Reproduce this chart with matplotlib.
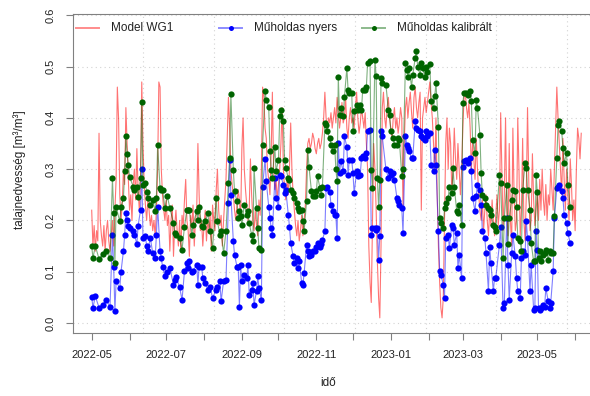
import numpy as np
import pandas as pd
import matplotlib
matplotlib.use("Agg")
import matplotlib.pyplot as plt
import matplotlib.dates as mdates
from matplotlib.lines import Line2D

plt.rcParams['font.family'] = ['Liberation Sans', 'DejaVu Sans']

start = pd.Timestamp("2022-05-01")

# Model WG1, daily values from 2022-05-01
model_wg1 = [
    # 2022-05
    0.22, 0.15, 0.19, 0.14, 0.18, 0.16, 0.37, 0.20, 0.17, 0.15, 0.19, 0.14, 0.18, 0.20, 0.16, 0.14,
    0.17, 0.20, 0.15, 0.22, 0.28, 0.46, 0.40, 0.25, 0.20, 0.23, 0.30, 0.27, 0.42, 0.35, 0.28,
    # 2022-06
    0.22, 0.25, 0.20, 0.27, 0.30, 0.24, 0.34, 0.26, 0.22, 0.28, 0.47, 0.35, 0.27, 0.23, 0.20,
    0.24, 0.22, 0.19, 0.21, 0.18, 0.20, 0.17, 0.22, 0.30, 0.47, 0.46, 0.30, 0.25, 0.22, 0.20,
    # 2022-07
    0.24, 0.19, 0.21, 0.14, 0.20, 0.23, 0.13, 0.19, 0.22, 0.18, 0.15, 0.20, 0.14, 0.21, 0.19, 0.24,
    0.28, 0.20, 0.18, 0.13, 0.21, 0.19, 0.23, 0.15, 0.20, 0.22, 0.35, 0.25, 0.18, 0.20, 0.15,
    # 2022-08
    0.19, 0.22, 0.16, 0.20, 0.18, 0.21, 0.14, 0.23, 0.20, 0.18, 0.26, 0.30, 0.22, 0.19, 0.21, 0.15,
    0.20, 0.24, 0.28, 0.36, 0.44, 0.38, 0.30, 0.27, 0.25, 0.22, 0.20, 0.23, 0.26, 0.24, 0.20,
    # 2022-09
    0.34, 0.40, 0.30, 0.26, 0.23, 0.20, 0.22, 0.32, 0.25, 0.20, 0.18, 0.22, 0.19, 0.17, 0.24,
    0.21, 0.30, 0.46, 0.44, 0.38, 0.36, 0.30, 0.28, 0.25, 0.33, 0.45, 0.30, 0.26, 0.28, 0.24,
    # 2022-10
    0.27, 0.30, 0.35, 0.42, 0.30, 0.26, 0.24, 0.28, 0.25, 0.30, 0.39, 0.30, 0.25, 0.22, 0.19, 0.17,
    0.20, 0.16, 0.18, 0.21, 0.17, 0.20, 0.23, 0.30, 0.35, 0.36, 0.34, 0.35, 0.37, 0.36, 0.34,
    # 2022-11
    0.33, 0.35, 0.36, 0.34, 0.35, 0.37, 0.40, 0.45, 0.40, 0.38, 0.40, 0.39, 0.41, 0.38, 0.40,
    0.42, 0.39, 0.44, 0.41, 0.38, 0.40, 0.43, 0.39, 0.40, 0.44, 0.38, 0.36, 0.40, 0.42, 0.39,
    # 2022-12
    0.40, 0.38, 0.42, 0.45, 0.40, 0.37, 0.39, 0.42, 0.40, 0.38, 0.41, 0.35, 0.30, 0.15, 0.08, 0.04,
    0.20, 0.35, 0.30, 0.22, 0.12, 0.05, 0.01, 0.15, 0.42, 0.45, 0.40, 0.38, 0.42, 0.44, 0.40,
    # 2023-01
    0.38, 0.36, 0.40, 0.42, 0.38, 0.40, 0.37, 0.39, 0.42, 0.40, 0.22, 0.35, 0.42, 0.44, 0.40, 0.43,
    0.45, 0.41, 0.38, 0.44, 0.46, 0.42, 0.40, 0.43, 0.45, 0.22, 0.40, 0.42, 0.44, 0.41, 0.43,
    # 2023-02
    0.45, 0.47, 0.43, 0.40, 0.35, 0.30, 0.40, 0.25, 0.15, 0.08, 0.03, 0.01, 0.05, 0.20,
    0.35, 0.40, 0.30, 0.38, 0.35, 0.25, 0.30, 0.38, 0.32, 0.28, 0.35, 0.30, 0.25, 0.30,
    # 2023-03
    0.38, 0.44, 0.45, 0.42, 0.40, 0.43, 0.38, 0.30, 0.35, 0.32, 0.28, 0.36, 0.30, 0.25, 0.22, 0.20,
    0.24, 0.18, 0.22, 0.25, 0.20, 0.17, 0.22, 0.19, 0.24, 0.20, 0.17, 0.21, 0.25, 0.19, 0.22,
    # 2023-04
    0.41, 0.30, 0.18, 0.25, 0.40, 0.22, 0.17, 0.35, 0.20, 0.15, 0.38, 0.25, 0.18, 0.20, 0.40,
    0.30, 0.17, 0.22, 0.36, 0.20, 0.16, 0.25, 0.42, 0.28, 0.18, 0.20, 0.33, 0.24, 0.19, 0.22,
    # 2023-05
    0.25, 0.20, 0.28, 0.22, 0.30, 0.24, 0.21, 0.27, 0.20, 0.25, 0.23, 0.30, 0.26, 0.22, 0.30, 0.38,
    0.46, 0.40, 0.35, 0.30, 0.25, 0.36, 0.28, 0.22, 0.30, 0.25, 0.20, 0.32, 0.27, 0.20, 0.24,
    # 2023-06
    0.18, 0.30, 0.38, 0.36, 0.32, 0.37,
]

# satellite overpass days (days after 2022-05-01)
sat_day = [
    0, 1, 3, 6, 9, 12, 15, 17, 18, 19, 20, 23, 24, 26, 27, 28, 29, 30,
    31, 34, 35, 37, 38, 40, 41, 42, 44, 45, 46, 48, 50, 52, 53, 54, 56, 57, 58, 60,
    62, 64, 67, 68, 69, 72, 74, 76, 78, 79, 80, 82, 83, 86, 87, 88, 90, 91,
    93, 95, 97, 99, 102, 103, 105, 106, 108, 110, 112, 113, 114, 116, 117, 119, 120, 121, 122,
    123, 125, 127, 128, 129, 131, 132, 133, 135, 136, 137, 139, 140, 142, 143, 145, 146, 147, 148,
    150, 151, 153, 154, 155, 157, 158, 159,
    161, 162, 163, 165, 166, 168, 169, 170, 172, 173, 174, 176, 177, 178, 180, 181, 183,
    184, 185, 187, 188, 189, 191, 192, 193, 195, 196, 198, 199, 200, 201, 202, 203, 204, 206, 207,
    209, 210, 211, 213,
    214, 215, 217, 218, 220, 221, 222, 224, 225, 226, 228, 229, 230, 232, 233, 234, 235, 236, 237,
    238, 241, 243, 244,
    245, 247, 248, 250, 251, 252, 254, 255, 257, 258, 259, 260, 262, 263, 265, 266, 267, 269, 270,
    271, 273, 274, 275,
    277, 278, 280, 281, 282, 284, 285, 286, 288, 289, 290, 292, 293, 295, 296, 297, 299, 300, 301, 303,
    304, 305, 307, 308, 310, 311, 312, 314, 315, 316, 318, 319, 320, 322, 323, 325, 326, 327, 329,
    330, 331, 334,
    335, 337, 338, 340, 341, 342, 344, 345, 347, 348, 349, 351, 352, 353, 355, 356, 357, 359, 360,
    362, 363, 364,
    365, 366, 367, 368, 370, 371, 372, 374, 375, 376, 378, 379, 381, 382, 383, 385, 386, 387, 389,
    390, 392,
]

# Műholdas nyers
sat_nyers = [
    0.051, 0.030, 0.052, 0.030, 0.036, 0.044, 0.032, 0.172, 0.110, 0.024, 0.081, 0.068, 0.100, 0.140,
    0.172, 0.214, 0.200, 0.190,
    0.185, 0.180, 0.172, 0.154, 0.190, 0.220, 0.300, 0.166, 0.170, 0.150, 0.140, 0.166, 0.136, 0.127,
    0.172, 0.227, 0.140, 0.127, 0.110, 0.091,
    0.100, 0.107, 0.075, 0.084, 0.090, 0.070, 0.045, 0.101, 0.117, 0.107, 0.120, 0.100, 0.101, 0.114,
    0.075, 0.110, 0.110, 0.088,
    0.078, 0.065, 0.070, 0.049, 0.065, 0.070, 0.081, 0.042, 0.081, 0.084, 0.234, 0.318, 0.250, 0.160,
    0.133, 0.110, 0.110, 0.032, 0.114,
    0.081, 0.094, 0.088, 0.114, 0.055, 0.065, 0.078, 0.036, 0.062, 0.091, 0.068, 0.045, 0.266, 0.320,
    0.276, 0.227, 0.205, 0.185, 0.172,
    0.283, 0.244, 0.227, 0.289, 0.286, 0.270, 0.253, 0.260,
    0.211, 0.188, 0.156, 0.130, 0.117, 0.127, 0.107, 0.120, 0.078, 0.075, 0.097, 0.153, 0.140, 0.130,
    0.133, 0.140, 0.140,
    0.149, 0.156, 0.149, 0.155, 0.162, 0.179, 0.263, 0.266, 0.255, 0.231, 0.218, 0.211, 0.210, 0.166,
    0.350, 0.292, 0.315, 0.296, 0.364,
    0.344, 0.289, 0.318, 0.318,
    0.292, 0.253, 0.296, 0.286, 0.289, 0.322, 0.325, 0.322, 0.331, 0.374, 0.377, 0.172, 0.185, 0.185,
    0.182, 0.185, 0.123, 0.170, 0.374,
    0.364, 0.300, 0.283, 0.296,
    0.289, 0.292, 0.279, 0.244, 0.237, 0.231, 0.224, 0.175, 0.364, 0.348, 0.341, 0.335, 0.322, 0.322,
    0.393, 0.380, 0.377, 0.374, 0.364,
    0.361, 0.357, 0.374, 0.364,
    0.370, 0.309, 0.296, 0.338, 0.309, 0.179, 0.101, 0.094, 0.075, 0.049, 0.166, 0.172, 0.146, 0.192,
    0.185, 0.153, 0.175, 0.107, 0.133, 0.088,
    0.305, 0.315, 0.318, 0.312, 0.322, 0.296, 0.244, 0.218, 0.247, 0.270, 0.260, 0.231, 0.179, 0.166,
    0.136, 0.062, 0.149, 0.117, 0.062,
    0.088, 0.088, 0.153,
    0.188, 0.030, 0.039, 0.205, 0.114, 0.045, 0.136, 0.172, 0.130, 0.088, 0.062, 0.049, 0.127, 0.140,
    0.133, 0.198, 0.166, 0.062, 0.114,
    0.026, 0.030, 0.179,
    0.143, 0.030, 0.026, 0.029, 0.036, 0.032, 0.068, 0.042, 0.029, 0.039, 0.101, 0.205, 0.263, 0.266,
    0.270, 0.257, 0.244, 0.211, 0.195,
    0.175, 0.156,
]

# Műholdas kalibrált
sat_kalibralt = [
    0.150, 0.127, 0.150, 0.125, 0.134, 0.140, 0.127, 0.282, 0.214, 0.117, 0.227, 0.198, 0.227, 0.244,
    0.296, 0.364, 0.330, 0.309,
    0.285, 0.266, 0.260, 0.266, 0.245, 0.282, 0.430, 0.270, 0.273, 0.256, 0.244, 0.230, 0.240, 0.218,
    0.244, 0.347, 0.263, 0.260, 0.260, 0.224,
    0.247, 0.224, 0.195, 0.175, 0.172, 0.166, 0.143, 0.188, 0.221, 0.220, 0.221, 0.172, 0.192, 0.218,
    0.200, 0.227, 0.190, 0.188,
    0.198, 0.214, 0.179, 0.146, 0.244, 0.198, 0.172, 0.180, 0.136, 0.179, 0.273, 0.322, 0.446, 0.299,
    0.257, 0.237, 0.205, 0.218, 0.208,
    0.192, 0.231, 0.211, 0.218, 0.195, 0.172, 0.159, 0.302, 0.224, 0.185, 0.146, 0.143, 0.348, 0.452,
    0.435, 0.422, 0.335, 0.299, 0.283,
    0.344, 0.296, 0.318, 0.403, 0.416, 0.393, 0.318, 0.302,
    0.283, 0.279, 0.260, 0.253, 0.244, 0.234, 0.224, 0.218, 0.221, 0.198, 0.179, 0.237, 0.338, 0.305,
    0.257, 0.247, 0.247,
    0.257, 0.286, 0.263, 0.250, 0.266, 0.390, 0.387, 0.374, 0.360, 0.348, 0.335, 0.348, 0.300, 0.276,
    0.480, 0.406, 0.419, 0.403, 0.440,
    0.497, 0.455, 0.448, 0.448,
    0.374, 0.413, 0.426, 0.416, 0.426, 0.416, 0.455, 0.455, 0.461, 0.507, 0.510, 0.299, 0.263, 0.513,
    0.481, 0.283, 0.227, 0.279, 0.478,
    0.468, 0.465, 0.416, 0.406,
    0.374, 0.361, 0.348, 0.348, 0.360, 0.357, 0.286, 0.300, 0.507, 0.494, 0.480, 0.497, 0.461, 0.484,
    0.517, 0.530, 0.500, 0.484, 0.507,
    0.497, 0.480, 0.500, 0.490,
    0.505, 0.432, 0.419, 0.442, 0.468, 0.383, 0.205, 0.195, 0.185, 0.224, 0.234, 0.244, 0.266, 0.253,
    0.302, 0.266, 0.218, 0.214, 0.231, 0.192,
    0.429, 0.448, 0.448, 0.445, 0.452, 0.432, 0.357, 0.331, 0.435, 0.419, 0.367, 0.292, 0.250, 0.244,
    0.231, 0.224, 0.221, 0.211, 0.192,
    0.188, 0.179, 0.289,
    0.273, 0.127, 0.205, 0.270, 0.154, 0.205, 0.240, 0.260, 0.257, 0.227, 0.166, 0.159, 0.140, 0.260,
    0.312, 0.302, 0.260, 0.221, 0.156,
    0.120, 0.120, 0.289,
    0.255, 0.127, 0.140, 0.120, 0.133, 0.136, 0.143, 0.123, 0.140, 0.136, 0.136, 0.208, 0.322, 0.387,
    0.393, 0.374, 0.341, 0.312, 0.331,
    0.269, 0.227,
]

assert len(sat_day) == len(sat_nyers) == len(sat_kalibralt)

model_dates = pd.date_range(start, periods=len(model_wg1), freq="D")
sat_dates = start + pd.to_timedelta(sat_day, unit="D")

W, H = 590, 396
fig = plt.figure(figsize=(W / 100, H / 100), dpi=100)
ax = fig.add_axes([73 / W, 1 - 333 / H, (594 - 73) / W, (333 - 14) / H])

px_per_day = 1.2208
x0 = mdates.date2num(start) - 18.7 / px_per_day
ax.set_xlim(x0, x0 + (594 - 73) / px_per_day)
ax.set_ylim(-0.0195, 0.6025)

# R-style grid: dotted lightgray, x grid at pretty POSIXct seconds
grid_kw = dict(color="#D3D3D3", lw=0.8, ls=(0, (1, 3)), zorder=0)
for yv in np.arange(0, 0.61, 0.1):
    ax.axhline(yv, **grid_kw)
for gx in pd.to_datetime(np.arange(1.65e9, 1.69e9, 5e6), unit="s"):
    ax.axvline(gx, **grid_kw)

red = (1, 0, 0, 0.55)
blue_ln = (0, 0, 1, 0.5)
green_ln = (0, 0.392, 0, 0.5)

ax.plot(model_dates, model_wg1, color=red, lw=0.8, zorder=2)
ax.plot(sat_dates, sat_nyers, color=blue_ln, lw=0.8, marker="o", ms=4.5,
        mfc="blue", mec="blue", mew=0, zorder=3)
ax.plot(sat_dates, sat_kalibralt, color=green_ln, lw=0.8, marker="o", ms=4.5,
        mfc="#006400", mec="#006400", mew=0, zorder=4)

# axes styling
for s in ["left", "bottom", "top", "right"]:
    ax.spines[s].set_color("#808080")
    ax.spines[s].set_linewidth(0.8)

months = pd.date_range("2022-05-01", "2023-06-01", freq="MS")
ax.set_xticks(months)
ax.set_xticklabels([m.strftime("%Y-%m") if i % 2 == 0 else "" for i, m in enumerate(months)])
ax.set_yticks(np.arange(0, 0.61, 0.1))
ax.set_yticklabels([f"{v:.1f}" for v in np.arange(0, 0.61, 0.1)], rotation=90, va="center")
ax.tick_params(axis="both", length=5, width=0.8, color="#808080", labelcolor="#222222",
               labelsize=8)
ax.tick_params(axis="x", pad=7.5)
ax.tick_params(axis="y", pad=7.5)

fig.text(20 / W, 1 - 170 / H, "talajnedvesség [m³/m³]", rotation=90, ha="center", va="center",
         fontsize=8.5, color="#222222")
fig.text(328 / W, 1 - 383 / H, "idő", ha="center", va="center", fontsize=8.5, color="#222222")

# legend, R-style: equal spacing, no box
entries = [("Model WG1", (1, 0, 0, 0.45), None), ("Műholdas nyers", (0, 0, 1, 0.45), "blue"),
           ("Műholdas kalibrált", (0, 0.392, 0, 0.45), "#006400")]
ly = 1 - 28 / H
for i, (lab, lc, mc) in enumerate(entries):
    lx = 76 + 143 * i
    fig.add_artist(Line2D([lx / W, (lx + 23) / W], [ly, ly], color=lc, lw=1.4,
                          transform=fig.transFigure))
    if mc is not None:
        fig.add_artist(Line2D([(lx + 11.5) / W], [ly], marker="o", ms=3.6, mfc=mc, mec=mc,
                              mew=0, transform=fig.transFigure))
    fig.text((lx + 35) / W, ly, lab, ha="left", va="center", fontsize=8.5, color="#222222")

fig.savefig("out.png", dpi=100)
